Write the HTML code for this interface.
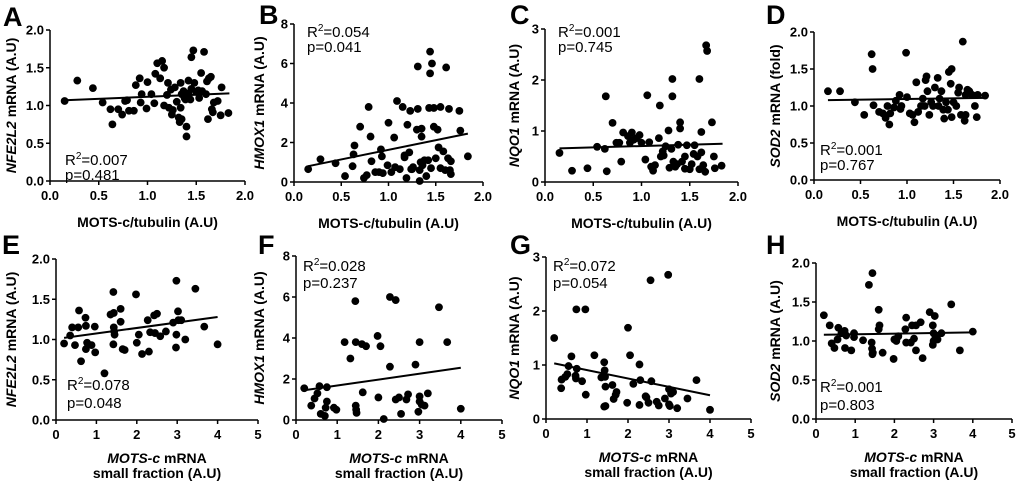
<!DOCTYPE html>
<html><head><meta charset="utf-8">
<style>
html,body{margin:0;padding:0;background:#fff;}
svg{display:block;font-family:"Liberation Sans",Arial,sans-serif;}
.tick{font-size:13px;font-weight:bold;fill:#000;}
.ttl{font-size:14px;font-weight:bold;fill:#000;}
.stat{font-size:15px;fill:#000;}
.let{font-size:27px;font-weight:bold;fill:#000;}
</style></head>
<body>
<svg id="fig" width="1020" height="484" viewBox="0 0 1020 484"></svg>
<script>
// ---- data arrays ----
const ptsA = [[0.15,1.06],[0.28,1.33],[0.44,1.23],[0.54,1.04],[0.62,0.95],[0.64,0.75],[0.7,0.95],[0.74,0.88],[0.77,1.06],[0.79,1.07],[0.81,0.93],[0.86,0.93],[0.88,1.27],[0.92,1.36],[0.93,1.04],[0.94,1.15],[0.99,0.96],[1.0,1.31],[1.04,1.15],[1.07,1.03],[1.08,1.42],[1.1,1.56],[1.13,1.36],[1.15,1.59],[1.17,1.5],[1.17,1.0],[1.2,1.14],[1.21,1.3],[1.22,0.97],[1.24,1.21],[1.25,0.88],[1.26,0.94],[1.28,1.24],[1.3,1.05],[1.32,0.84],[1.33,0.78],[1.34,1.3],[1.34,0.97],[1.35,0.82],[1.37,1.19],[1.38,1.1],[1.39,1.08],[1.4,0.72],[1.4,0.59],[1.42,1.16],[1.42,1.33],[1.44,1.08],[1.45,1.64],[1.45,1.22],[1.47,1.73],[1.48,1.3],[1.5,1.18],[1.52,1.2],[1.53,1.1],[1.55,1.43],[1.56,1.19],[1.58,1.71],[1.6,1.15],[1.61,1.32],[1.62,0.82],[1.63,1.36],[1.65,1.38],[1.66,0.95],[1.67,0.91],[1.68,1.04],[1.72,1.06],[1.75,0.87],[1.76,1.24],[1.83,0.9],[1.35,1.15]];
const fitA = [[0.15,1.07],[1.84,1.16]];
const ptsB = [[0.15,0.65],[0.28,1.15],[0.44,0.95],[0.54,0.3],[0.62,0.8],[0.63,1.4],[0.64,1.85],[0.7,2.8],[0.74,0.2],[0.77,0.35],[0.79,3.8],[0.81,2.3],[0.82,1.05],[0.86,0.5],[0.9,0.5],[0.92,1.65],[0.93,1.3],[0.94,0.45],[0.99,0.85],[1.0,3.0],[1.03,0.5],[1.06,2.25],[1.07,0.75],[1.09,4.1],[1.12,0.65],[1.15,3.8],[1.17,1.35],[1.17,1.25],[1.19,0.2],[1.2,2.9],[1.22,1.5],[1.23,3.6],[1.24,0.65],[1.26,0.75],[1.3,2.65],[1.31,5.85],[1.31,3.7],[1.33,0.6],[1.33,0.05],[1.34,1.0],[1.35,2.7],[1.35,2.3],[1.36,0.85],[1.38,1.1],[1.4,0.3],[1.42,1.1],[1.43,3.75],[1.44,6.6],[1.44,5.5],[1.45,0.7],[1.46,6.0],[1.48,3.75],[1.48,2.8],[1.5,1.2],[1.52,2.65],[1.53,1.75],[1.55,3.8],[1.55,0.7],[1.58,1.55],[1.6,0.6],[1.61,5.8],[1.63,1.2],[1.64,3.7],[1.65,0.6],[1.66,1.05],[1.66,0.4],[1.75,3.6],[1.76,2.6],[1.84,1.3],[1.25,0.65]];
const fitB = [[0.15,0.8],[1.84,2.45]];
const ptsC = [[0.15,0.57],[0.28,0.22],[0.44,0.27],[0.54,0.69],[0.62,0.65],[0.63,1.68],[0.64,0.21],[0.7,1.16],[0.74,0.77],[0.77,0.77],[0.79,0.4],[0.81,0.97],[0.86,0.9],[0.88,0.77],[0.9,0.97],[0.92,0.83],[0.95,0.86],[0.98,0.92],[1.0,0.77],[1.04,0.44],[1.06,1.7],[1.08,0.78],[1.1,0.3],[1.12,0.22],[1.14,0.33],[1.18,0.86],[1.19,1.5],[1.2,0.5],[1.22,0.6],[1.23,0.52],[1.25,0.7],[1.28,1.01],[1.29,0.28],[1.31,0.65],[1.32,2.02],[1.32,1.68],[1.33,0.4],[1.35,0.3],[1.37,0.35],[1.38,0.73],[1.4,1.17],[1.4,1.05],[1.42,0.4],[1.45,0.26],[1.45,0.5],[1.47,0.72],[1.5,0.25],[1.52,0.35],[1.54,0.55],[1.55,0.72],[1.58,0.5],[1.6,2.02],[1.6,0.25],[1.62,0.98],[1.62,0.58],[1.64,0.33],[1.66,0.2],[1.67,2.68],[1.68,2.57],[1.73,1.17],[1.75,0.5],[1.76,0.27],[1.83,0.32]];
const fitC = [[0.15,0.66],[1.84,0.75]];
const ptsD = [[0.15,1.2],[0.28,1.2],[0.44,1.05],[0.54,0.88],[0.62,1.7],[0.63,1.5],[0.64,1.01],[0.7,0.92],[0.74,0.9],[0.77,0.84],[0.79,1.0],[0.81,0.75],[0.82,0.9],[0.86,0.98],[0.88,1.07],[0.92,1.15],[0.93,0.96],[0.94,1.0],[0.99,1.72],[1.0,1.12],[1.03,0.9],[1.06,0.88],[1.08,0.78],[1.1,1.32],[1.12,0.92],[1.15,1.0],[1.17,1.1],[1.19,1.0],[1.2,1.35],[1.21,1.4],[1.22,1.2],[1.24,0.88],[1.26,1.05],[1.28,1.0],[1.3,1.25],[1.33,1.38],[1.34,1.0],[1.35,1.1],[1.37,1.2],[1.39,0.95],[1.4,0.83],[1.42,1.05],[1.44,0.95],[1.45,1.46],[1.47,1.3],[1.48,1.5],[1.48,0.85],[1.5,1.05],[1.53,1.0],[1.55,1.18],[1.56,1.25],[1.58,0.88],[1.6,1.87],[1.62,0.8],[1.63,1.15],[1.65,1.22],[1.67,1.2],[1.7,1.15],[1.73,1.0],[1.75,0.85],[1.76,1.15],[1.84,1.14],[1.63,0.88]];
const fitD = [[0.15,1.08],[1.84,1.11]];
const ptsE = [[0.2,0.95],[0.35,1.05],[0.4,1.15],[0.47,0.93],[0.55,1.15],[0.57,1.36],[0.62,0.73],[0.73,1.27],[0.74,1.17],[0.74,0.88],[0.77,0.96],[0.88,0.93],[0.96,1.16],[0.97,0.84],[1.2,0.58],[1.35,1.31],[1.42,1.59],[1.43,1.33],[1.43,1.15],[1.44,1.1],[1.45,1.06],[1.42,0.94],[1.6,1.38],[1.6,1.22],[1.65,0.88],[1.7,0.87],[1.98,1.56],[2.0,0.96],[2.05,1.06],[2.13,0.82],[2.27,1.24],[2.3,0.85],[2.33,1.09],[2.43,1.3],[2.45,1.08],[2.5,1.32],[2.58,1.04],[2.72,1.1],[2.9,1.21],[2.98,1.73],[2.98,1.06],[2.97,0.9],[3.02,1.35],[3.03,1.24],[3.1,1.24],[3.2,1.0],[3.45,1.63],[3.67,1.16],[4.0,0.94]];
const fitE = [[0.2,1.02],[4.0,1.28]];
const ptsF = [[0.2,1.55],[0.37,0.7],[0.45,1.05],[0.52,1.3],[0.57,1.65],[0.6,0.3],[0.7,0.2],[0.72,0.6],[0.75,1.6],[0.75,0.9],[0.92,0.6],[0.98,0.5],[1.18,3.8],[1.32,3.0],[1.44,5.8],[1.45,3.8],[1.45,0.7],[1.46,0.5],[1.47,0.35],[1.6,3.7],[1.62,1.35],[1.7,3.6],[1.98,4.1],[2.0,1.1],[2.05,3.6],[2.13,0.05],[2.28,6.0],[2.28,2.6],[2.42,5.85],[2.42,1.0],[2.5,1.1],[2.55,0.3],[2.68,1.0],[2.72,1.25],[2.9,2.7],[2.97,0.4],[3.0,3.8],[3.0,1.15],[3.0,0.9],[3.05,0.75],[3.12,0.7],[3.2,1.3],[3.47,5.5],[3.67,3.8],[4.0,0.55]];
const fitF = [[0.2,1.45],[4.0,2.55]];
const ptsG = [[0.2,1.5],[0.37,0.57],[0.38,0.73],[0.47,0.78],[0.52,0.83],[0.55,0.98],[0.62,1.16],[0.72,0.8],[0.73,0.75],[0.74,2.03],[0.75,0.93],[0.88,0.7],[0.96,2.03],[0.97,0.45],[1.18,1.18],[1.35,0.77],[1.42,1.05],[1.43,0.9],[1.44,0.78],[1.45,0.6],[1.42,0.23],[1.45,0.24],[1.62,0.63],[1.65,0.37],[1.7,0.45],[1.72,0.5],[1.98,0.3],[2.0,1.69],[2.05,1.18],[2.13,0.65],[2.28,1.01],[2.3,0.72],[2.28,0.26],[2.43,0.42],[2.45,0.4],[2.5,0.3],[2.55,2.57],[2.57,0.7],[2.7,0.32],[2.75,0.25],[2.9,0.38],[2.98,2.67],[3.0,0.27],[3.0,0.55],[3.02,0.24],[3.05,0.47],[3.1,0.5],[3.2,0.2],[3.45,0.38],[3.67,0.72],[4.0,0.17]];
const fitG = [[0.2,1.03],[4.0,0.44]];
const ptsH = [[0.2,1.33],[0.35,1.2],[0.4,0.97],[0.47,0.91],[0.55,1.02],[0.57,1.17],[0.65,1.1],[0.73,1.13],[0.74,0.91],[0.77,1.07],[0.9,0.88],[0.97,1.1],[0.97,1.05],[1.2,1.01],[1.35,1.72],[1.44,1.87],[1.42,0.98],[1.43,0.9],[1.44,0.83],[1.45,0.85],[1.6,1.4],[1.6,1.15],[1.62,1.2],[1.7,0.85],[1.98,0.77],[2.0,1.02],[2.05,1.0],[2.1,1.06],[2.3,1.3],[2.28,1.15],[2.3,0.98],[2.42,0.98],[2.45,1.2],[2.5,1.03],[2.55,1.2],[2.55,0.88],[2.67,1.24],[2.72,0.78],[2.9,1.37],[2.98,1.2],[3.0,1.1],[3.0,1.0],[2.98,0.95],[3.03,1.32],[3.05,1.05],[3.1,1.02],[3.2,1.1],[3.45,1.47],[3.67,0.88],[4.0,1.12]];
const fitH = [[0.2,1.08],[4.0,1.11]];
const xTicksTop = ["0.0","0.5","1.0","1.5","2.0"];
const xTicksBot = ["0","1","2","3","4","5"];
const yTicks2 = ["0.0","0.5","1.0","1.5","2.0"];
const yTicks8 = ["0","2","4","6","8"];
const yTicks3 = ["0","1","2","3"];
const stats = {A:["0.007","0.481"],B:["0.054","0.041"],C:["0.001","0.745"],D:["0.001","0.767"],E:["0.078","0.048"],F:["0.028","0.237"],G:["0.072","0.054"],H:["0.001","0.803"]};

const NS="http://www.w3.org/2000/svg";
const svg=document.getElementById('fig');
function mk(tag,attrs,parent){const e=document.createElementNS(NS,tag);for(const k in attrs)e.setAttribute(k,attrs[k]);(parent||svg).appendChild(e);return e;}

const panels=[
 {id:'A',pts:ptsA,fit:fitA,ax:50,ax2:245,yt:30,y0:181,xt:xTicksTop,yt_:yTicks2,ytitle:['NFE2L2',' mRNA (A.U)'],ytx:16,st:[15,165,180],bottom:false,lx:3,ly:26},
 {id:'B',pts:ptsB,fit:fitB,ax:294,ax2:483,yt:24,y0:182,xt:xTicksTop,yt_:yTicks8,ytitle:['HMOX1',' mRNA (A.U)'],ytx:264,st:[13,37,52],bottom:false,lx:259,ly:24},
 {id:'C',pts:ptsC,fit:fitC,ax:545,ax2:738,yt:29,y0:182,xt:xTicksTop,yt_:yTicks3,ytitle:['NQO1',' mRNA (A.U)'],ytx:519,st:[13,37,52],bottom:false,lx:510,ly:24},
 {id:'D',pts:ptsD,fit:fitD,ax:814,ax2:1000,yt:32,y0:180,xt:xTicksTop,yt_:yTicks2,ytitle:['SOD2',' mRNA (fold)'],ytx:780,st:[6,155,170],bottom:false,lx:766,ly:24},
 {id:'E',pts:ptsE,fit:fitE,ax:56,ax2:258,yt:259,y0:420,xt:xTicksBot,yt_:yTicks2,ytitle:['NFE2L2',' mRNA (A.U)'],ytx:16,st:[11,390,408],bottom:true,lx:2,ly:254},
 {id:'F',pts:ptsF,fit:fitF,ax:296,ax2:502,yt:256,y0:420,xt:xTicksBot,yt_:yTicks8,ytitle:['HMOX1',' mRNA (A.U)'],ytx:264,st:[7,271,288],bottom:true,lx:258,ly:254},
 {id:'G',pts:ptsG,fit:fitG,ax:546,ax2:751,yt:257,y0:419,xt:xTicksBot,yt_:yTicks3,ytitle:['NQO1',' mRNA (A.U)'],ytx:519,st:[7,271,288],bottom:true,lx:510,ly:254},
 {id:'H',pts:ptsH,fit:fitH,ax:816,ax2:1012,yt:263,y0:419,xt:xTicksBot,yt_:yTicks2,ytitle:['SOD2',' mRNA (A.U)'],ytx:780,st:[4,392,410],bottom:true,lx:766,ly:254}
];

panels.forEach(p=>{
  const g=mk('g',{});
  
  
  const xmax=parseFloat(p.xt[p.xt.length-1]), ymax=parseFloat(p.yt_[p.yt_.length-1]);
  const X=v=>p.ax+(p.ax2-p.ax)*v/xmax;
  const Y=v=>p.y0-(p.y0-p.yt)*v/ymax;
  const L=mk('text',{x:p.lx,y:p.ly,class:'let'},g);L.textContent=p.id;
  
  
  const ya=mk('line',{x1:p.ax,y1:p.yt,x2:p.ax,y2:p.y0,stroke:'#000','stroke-width':1.5},g);
  
  
  const xa=mk('line',{x1:p.ax,y1:p.y0,x2:p.ax2,y2:p.y0,stroke:'#000','stroke-width':1.5},g);
  
  
  p.yt_.forEach(t=>{const v=parseFloat(t),y=Y(v);
    mk('line',{x1:p.ax-4,y1:y,x2:p.ax,y2:y,stroke:'#000','stroke-width':1.5},g);
    const tx=mk('text',{x:p.ax-6,y:y+4.5,class:'tick','text-anchor':'end'},g);tx.textContent=t;
    
    });
  p.xt.forEach(t=>{const v=parseFloat(t),x=X(v);
    mk('line',{x1:x,y1:p.y0,x2:x,y2:p.y0+4,stroke:'#000','stroke-width':1.5},g);
    const tx=mk('text',{x:x,y:p.y0+19,class:'tick','text-anchor':'middle'},g);tx.textContent=t;
    
    });
  p.pts.forEach(d=>{const c=mk('circle',{cx:X(d[0]),cy:Y(d[1]),r:3.9,fill:'#000'},g);
    
    });
  const fl=mk('line',{x1:X(p.fit[0][0]),y1:Y(p.fit[0][1]),x2:X(p.fit[1][0]),y2:Y(p.fit[1][1]),stroke:'#000','stroke-width':2},g);
  
  
  const s=stats[p.id];
  const r=mk('text',{x:p.ax+p.st[0],y:p.st[1],class:'stat'},g);
  r.innerHTML='R<tspan dy="-6" font-size="10">2</tspan><tspan dy="6">=' + s[0] + '</tspan>';
  
  
  const pv=mk('text',{x:p.ax+p.st[0],y:p.st[2],class:'stat'},g);pv.textContent='p='+s[1];
  
  
  const cy=(p.yt+p.y0)/2;
  const yt=mk('text',{x:p.ytx,y:cy,class:'ttl','text-anchor':'middle',transform:'rotate(-90 '+p.ytx+' '+cy+')'},g);
  yt.innerHTML='<tspan font-style="italic">'+p.ytitle[0]+'</tspan>'+p.ytitle[1];
  
  
  const cx=(p.ax+p.ax2)/2;
  if(!p.bottom){
    const xt=mk('text',{x:cx,y:p.y0+46,class:'ttl','text-anchor':'middle'},g);xt.textContent='MOTS-c/tubulin (A.U)';
    
    
  } else {
    const xt=mk('text',{x:cx,y:p.y0+43,class:'ttl','text-anchor':'middle'},g);
    xt.innerHTML='<tspan font-style="italic">MOTS-c</tspan> mRNA';
    
    
    const xt2=mk('text',{x:cx,y:p.y0+58,class:'ttl','text-anchor':'middle'},g);xt2.textContent='small fraction (A.U)';
    
    
  }
});
</script>
</body></html>
